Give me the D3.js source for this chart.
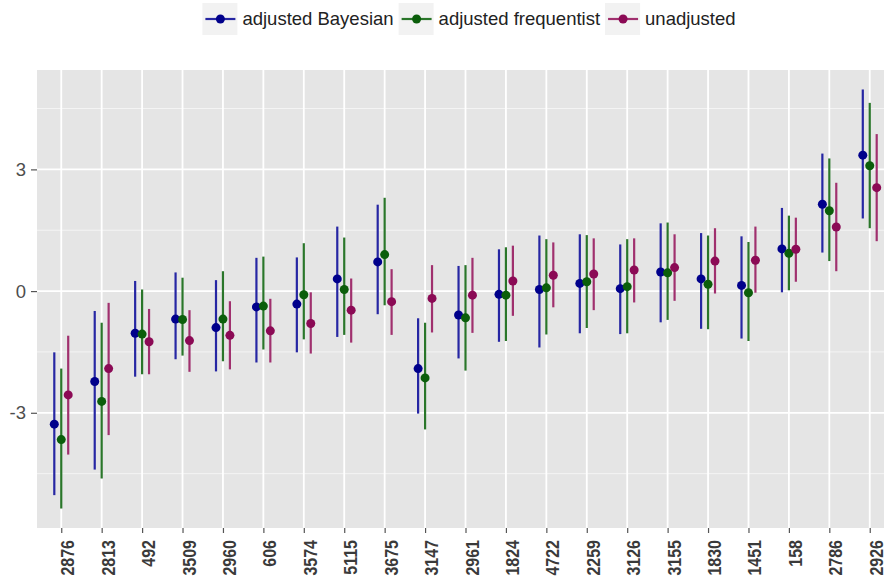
<!DOCTYPE html>
<html>
<head>
<meta charset="utf-8">
<script src="https://cdn.jsdelivr.net/npm/d3@7"></script>
<style>
  body { margin: 0; background: #fff; }
  svg { display: block; font-family: "Liberation Sans", Arial, sans-serif; }
</style>
</head>
<body>
<svg id="chart" width="884" height="582"></svg>
<script>
// Categories (ordered as in the plot)
const categories = ["2876","2813","492","3509","2960","606","3574","5115","3675","3147",
    "2961","1824","4722","2259","3126","3155","1830","1451","158","2786","2926"];

const seriesNames = ["adjusted Bayesian", "adjusted frequentist", "unadjusted"];

// adjusted Bayesian
const bayesEst = [-3.28,-2.23,-1.04,-0.69,-0.90,-0.39,-0.32,0.30,0.72,-1.91,-0.59,-0.08,0.04,0.19,0.06,0.47,0.30,0.14,1.04,2.14,3.35];
const bayesLo  = [-5.03,-4.40,-2.11,-1.68,-1.98,-1.76,-1.51,-1.13,-0.57,-3.02,-1.66,-1.25,-1.39,-1.04,-1.06,-0.77,-0.93,-1.17,-0.03,0.95,1.79];
const bayesHi  = [-1.51,-0.49,0.25,0.46,0.27,0.82,0.83,1.59,2.13,-0.67,0.62,1.03,1.37,1.40,1.15,1.67,1.43,1.35,2.05,3.39,4.97];

// adjusted frequentist
const freqEst = [-3.66,-2.72,-1.06,-0.70,-0.69,-0.37,-0.09,0.04,0.90,-2.14,-0.66,-0.10,0.08,0.23,0.11,0.45,0.17,-0.04,0.93,1.98,3.09];
const freqLo  = [-5.36,-4.62,-2.05,-1.59,-1.73,-1.44,-1.19,-1.08,-0.35,-3.41,-1.96,-1.23,-1.07,-0.91,-1.04,-0.71,-0.94,-1.23,0.02,0.74,1.55];
const freqHi  = [-1.91,-0.78,0.04,0.33,0.49,0.85,1.18,1.32,2.30,-0.78,0.64,1.08,1.28,1.38,1.28,1.69,1.37,1.21,1.86,3.27,4.64];

// unadjusted
const unadjEst = [-2.56,-1.91,-1.25,-1.22,-1.09,-0.98,-0.80,-0.47,-0.26,-0.18,-0.10,0.25,0.39,0.42,0.52,0.58,0.74,0.76,1.03,1.58,2.55];
const unadjLo  = [-4.03,-3.55,-2.05,-1.99,-1.93,-1.76,-1.54,-1.27,-1.08,-1.02,-1.03,-0.61,-0.40,-0.47,-0.28,-0.24,-0.06,-0.04,0.23,0.49,1.23];
const unadjHi  = [-1.10,-0.29,-0.44,-0.47,-0.25,-0.19,-0.03,0.31,0.54,0.64,0.82,1.12,1.20,1.30,1.30,1.40,1.55,1.59,1.81,2.67,3.87];

const yTicks = [-3, 0, 3];
const yMinor = [-4.5, -1.5, 1.5, 4.5];

// colours: point / (slightly softer) line
const pointColors = ["#00008B", "#0B5E0B", "#8B0A55"];
const lineColors  = ["#2626A3", "#2A762A", "#A0306E"];

const series = [
    { est: bayesEst, lo: bayesLo, hi: bayesHi },
    { est: freqEst,  lo: freqLo,  hi: freqHi },
    { est: unadjEst, lo: unadjLo, hi: unadjHi }
];

const svg = d3.select("#chart");

// panel box (right side runs past the picture edge, as in the reference)
const panel = { left: 37, right: 894, top: 70, bottom: 528 };

const x = d3.scalePoint()
    .domain(categories)
    .range([panel.left, panel.right])
    .padding(0.6);

const y = d3.scaleLinear()
    .domain([-5.84, 5.45])
    .range([panel.bottom, panel.top]);

const dodge = x.step() * 0.172;

// panel background
svg.append("rect")
    .attr("x", panel.left)
    .attr("y", panel.top)
    .attr("width", panel.right - panel.left)
    .attr("height", panel.bottom - panel.top)
    .attr("fill", "#E5E5E5");

// minor grid
svg.append("g").selectAll("line")
    .data(yMinor)
    .enter().append("line")
    .attr("x1", panel.left).attr("x2", panel.right)
    .attr("y1", d => y(d)).attr("y2", d => y(d))
    .attr("stroke", "#F4F4F4")
    .attr("stroke-width", 1);

// major grid
svg.append("g").selectAll("line")
    .data(yTicks)
    .enter().append("line")
    .attr("x1", panel.left).attr("x2", panel.right)
    .attr("y1", d => y(d)).attr("y2", d => y(d))
    .attr("stroke", "#fff")
    .attr("stroke-width", 1.8);

svg.append("g").selectAll("line")
    .data(categories)
    .enter().append("line")
    .attr("x1", d => x(d)).attr("x2", d => x(d))
    .attr("y1", panel.top).attr("y2", panel.bottom)
    .attr("stroke", "#fff")
    .attr("stroke-width", 1.8);

// y axis (plain hyphen minus, like the reference)
const yAxis = svg.append("g")
    .attr("transform", `translate(${panel.left},0)`)
    .call(d3.axisLeft(y).tickValues(yTicks).tickSize(6).tickPadding(5).tickFormat(d => String(d)));
yAxis.select(".domain").remove();
yAxis.selectAll("line").attr("stroke", "#555").attr("stroke-width", 1.2);
yAxis.selectAll("text")
    .attr("fill", "#4D4D4D")
    .style("font-size", "18.5px")
    .style("font-family", "Liberation Sans, Arial, sans-serif");

// x axis
const xAxis = svg.append("g")
    .attr("transform", `translate(0,${panel.bottom})`)
    .call(d3.axisBottom(x).tickSize(5).tickFormat(""));
xAxis.select(".domain").remove();
xAxis.selectAll("line").attr("stroke", "#555").attr("stroke-width", 1.2);

svg.append("g").selectAll("text")
    .data(categories)
    .enter().append("text")
    .attr("transform", d => `translate(${x(d) + 13},540) rotate(-90) scale(1,1.2)`)
    .attr("text-anchor", "end")
    .attr("fill", "#3A3A3A")
    .style("font-size", "16px")
    .style("font-weight", "bold")
    .text(d => d);

// point ranges
series.forEach((s, i) => {
    const g = svg.append("g");
    const off = (i - 1) * dodge;
    g.selectAll("line")
        .data(categories)
        .enter().append("line")
        .attr("x1", (d, j) => x(d) + off)
        .attr("x2", (d, j) => x(d) + off)
        .attr("y1", (d, j) => y(s.lo[j]))
        .attr("y2", (d, j) => y(s.hi[j]))
        .attr("stroke", lineColors[i])
        .attr("stroke-width", 2.2);
    g.selectAll("circle")
        .data(categories)
        .enter().append("circle")
        .attr("cx", (d, j) => x(d) + off)
        .attr("cy", (d, j) => y(s.est[j]))
        .attr("r", 4.5)
        .attr("fill", pointColors[i]);
});

// legend
const legend = svg.append("g");
const keyW = 35, keyH = 32, keyTop = 3, textGap = 5, itemGap = 5;
let cursor = 0;
seriesNames.forEach((name, i) => {
    const item = legend.append("g");
    item.append("rect")
        .attr("x", 0).attr("y", keyTop)
        .attr("width", keyW).attr("height", keyH)
        .attr("fill", "#F2F2F2");
    item.append("line")
        .attr("x1", 3).attr("x2", keyW - 2)
        .attr("y1", keyTop + keyH / 2).attr("y2", keyTop + keyH / 2)
        .attr("stroke", lineColors[i])
        .attr("stroke-width", 2.2);
    item.append("circle")
        .attr("cx", keyW / 2 + 0.5).attr("cy", keyTop + keyH / 2)
        .attr("r", 4.5)
        .attr("fill", pointColors[i]);
    const t = item.append("text")
        .attr("x", keyW + textGap)
        .attr("y", keyTop + keyH / 2)
        .attr("dy", "0.35em")
        .attr("fill", "#222")
        .style("font-size", "18.5px")
        .text(name);
    const w = keyW + textGap + t.node().getComputedTextLength();
    item.attr("transform", `translate(${cursor},0)`);
    cursor += w + itemGap;
});
const legendWidth = cursor - itemGap;
legend.attr("transform", `translate(${469 - legendWidth / 2},0)`);
</script>
</body>
</html>
